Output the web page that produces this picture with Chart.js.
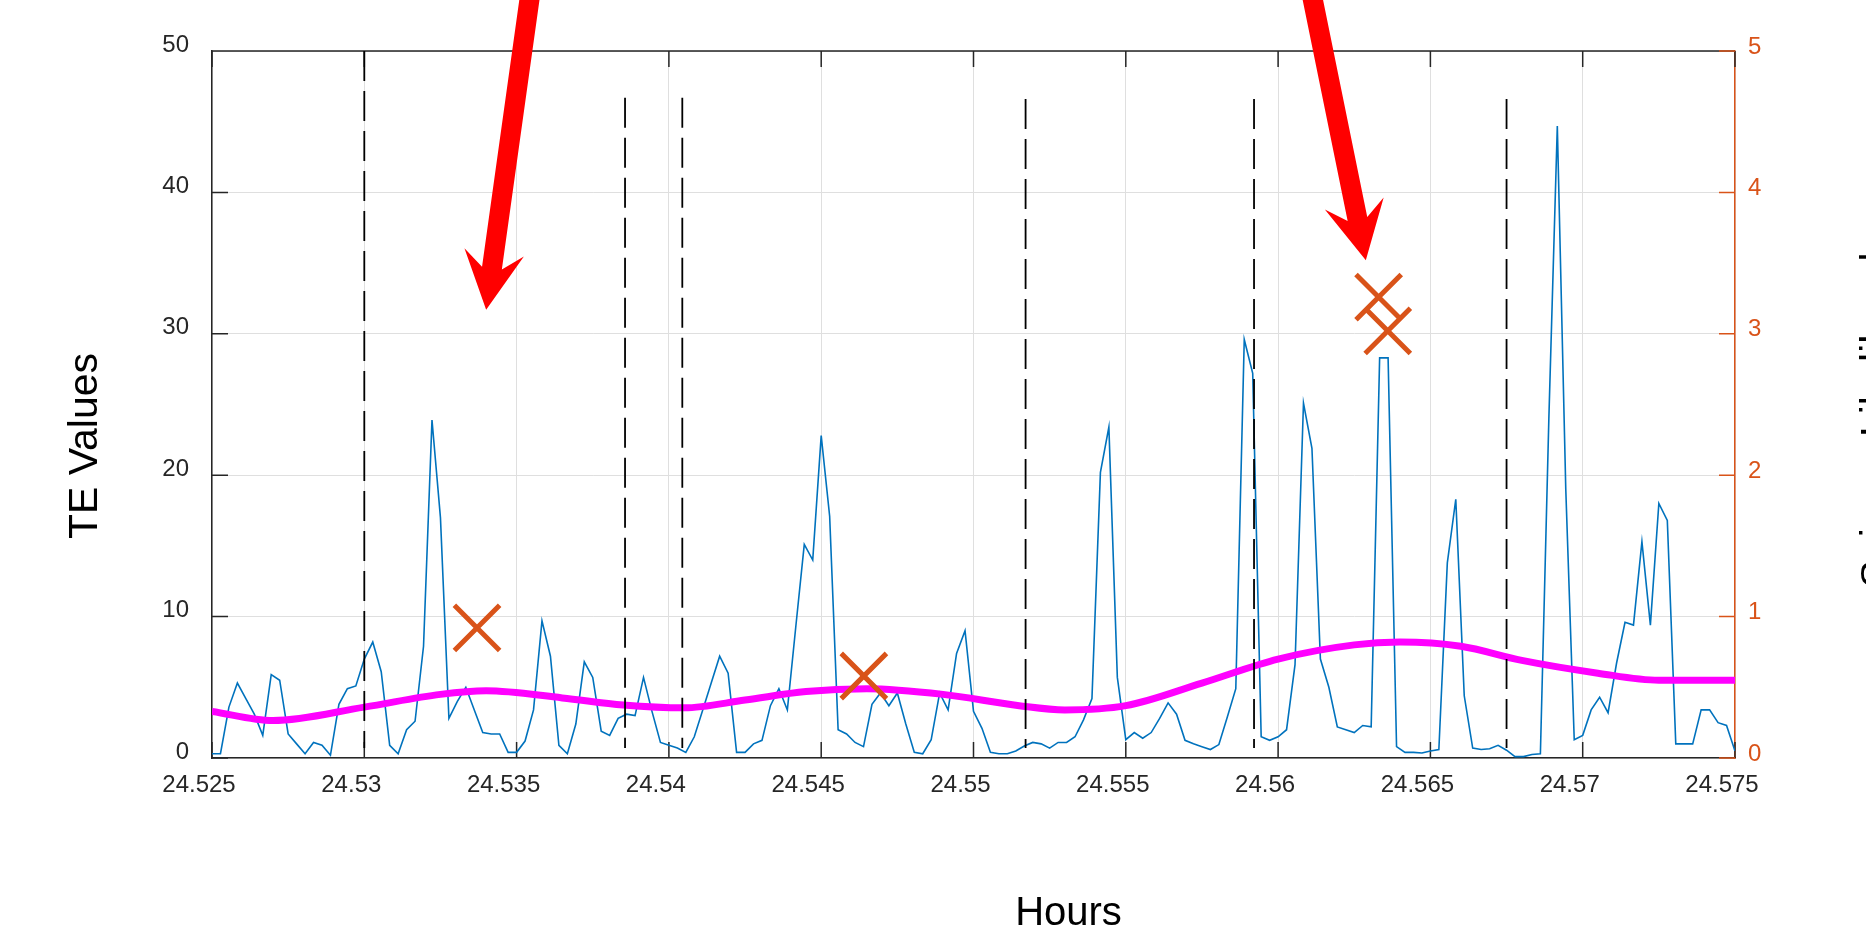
<!DOCTYPE html>
<html>
<head>
<meta charset="utf-8">
<script src="https://cdn.jsdelivr.net/npm/chart.js@4.4.1/dist/chart.umd.min.js"></script>
<style>
  html, body { margin: 0; padding: 0; background: #fff; overflow: hidden; }
  #wrap { width: 1866px; height: 928px; }
</style>
</head>
<body>
<div id="wrap"><canvas id="teChart" width="1866" height="928"></canvas></div>
<script>
// time axis: one TE sample per second, starting at 24.525 h
const startHour = 24.525;
const stepHour = 1 / 3600;

// TE values (left axis)
const teValues = [
  0.3, 0.3, 3.6, 5.3, 4.2, 3.1, 1.6, 5.9, 5.5, 1.7,
  1.0, 0.3, 1.1, 0.9, 0.2, 3.8, 4.9, 5.1, 7.0, 8.2,
  6.1, 0.9, 0.3, 2.0, 2.6, 7.9, 23.9, 17.0, 2.8, 4.0,
  5.0, 3.4, 1.8, 1.7, 1.7, 0.4, 0.4, 1.2, 3.4, 9.7,
  7.2, 0.9, 0.3, 2.4, 6.8, 5.7, 1.9, 1.6, 2.8, 3.1,
  3.0, 5.7, 3.3, 1.1, 0.9, 0.7, 0.4, 1.5, 3.4, 5.3,
  7.2, 6.0, 0.4, 0.4, 1.0, 1.25, 3.7, 4.9, 3.4, 9.3,
  15.1, 14.0, 22.8, 17.1, 2.0, 1.7, 1.1, 0.8, 3.8, 4.6,
  3.7, 4.6, 2.4, 0.4, 0.3, 1.3, 4.6, 3.4, 7.4, 9.0,
  3.3, 2.1, 0.4, 0.3, 0.3, 0.5, 0.85, 1.1, 1.0, 0.7,
  1.1, 1.1, 1.5, 2.7, 4.2, 20.2, 23.4, 5.7, 1.3, 1.8,
  1.4, 1.8, 2.8, 3.9, 3.1, 1.25, 1.0, 0.8, 0.6, 0.95,
  2.9, 4.9, 29.6, 27.2, 1.5, 1.25, 1.5, 2.0, 6.6, 25.1,
  21.9, 7.0, 5.0, 2.2, 2.0, 1.8, 2.3, 2.2, 28.3, 28.3,
  0.8, 0.4, 0.4, 0.35, 0.5, 0.6, 13.8, 18.3, 4.4, 0.7,
  0.6, 0.65, 0.9, 0.55, 0.1, 0.1, 0.25, 0.3, 24.0, 44.7,
  19.0, 1.3, 1.6, 3.4, 4.3, 3.2, 6.7, 9.6, 9.4, 15.3,
  9.4, 18.0, 16.8, 1.0, 1.0, 1.0, 3.4, 3.4, 2.5, 2.3,
  0.5
];

// smooth magenta trend (left axis)
const fitHours = [24.525, 24.527, 24.530, 24.5325, 24.534, 24.5365, 24.5385, 24.5405,
  24.5425, 24.5445, 24.5465, 24.549, 24.5515, 24.553, 24.555, 24.5575, 24.560,
  24.5625, 24.564, 24.566, 24.568, 24.5705, 24.5725, 24.575];
const fitValues = [3.3, 2.65, 3.6, 4.5, 4.75, 4.25, 3.75, 3.55,
  4.1, 4.7, 4.9, 4.5, 3.7, 3.4, 3.7, 5.3, 7.0,
  8.0, 8.2, 7.9, 6.9, 6.0, 5.5, 5.5];

// orange crosses (right axis)
const markerHours = [24.5337, 24.5464, 24.5633, 24.5636];
const markerValues = [0.92, 0.58, 3.26, 3.02];

// dashed event lines (left axis units)
const eventHours = [24.5300, 24.53856, 24.54044, 24.55171, 24.55921, 24.5675];
const eventTops = [50, 46.7, 46.7, 46.6, 46.6, 46.6];
const eventBottom = 0.7;

// red annotation arrows, tail -> tip (left axis units)
const arrowTailHours = [24.53551, 24.56101];
const arrowTailValues = [55.0, 55.0];
const arrowTipHours = [24.53400, 24.56288];
const arrowTipValues = [31.7, 35.2];

const xTicks = [24.525, 24.53, 24.535, 24.54, 24.545, 24.55, 24.555, 24.56, 24.565, 24.57, 24.575];

const xTitle = "Hours";
const yTitle = "TE Values";
const y2Title = "Seizure Likelihood";

const inkColor = "#262626";
const orange = "#D95319";
const fontFamily = '"Liberation Sans", Arial, Helvetica, sans-serif';

Chart.defaults.font.family = fontFamily;

const tePoints = teValues.map((v, i) => ({ x: startHour + i * stepHour, y: v }));
const fitPoints = fitHours.map((h, i) => ({ x: h, y: fitValues[i] }));
const markerPoints = markerHours.map((h, i) => ({ x: h, y: markerValues[i] }));

const eventSets = eventHours.map((h, k) => ({
  label: "event " + (k + 1),
  data: [{ x: h, y: eventTops[k] }, { x: h, y: eventBottom }],
  yAxisID: "y",
  borderColor: "#000000",
  borderWidth: 1.8,
  borderDash: [30, 10],
  pointRadius: 0,
  fill: false,
  order: 1,
}));

// inward MATLAB-style tick marks and top box line
const axisDecor = {
  id: "axisDecor",
  beforeDatasetsDraw(chart) {
    const { ctx, chartArea, scales } = chart;
    const len = 16;
    ctx.save();
    ctx.lineWidth = 1.5;
    ctx.strokeStyle = inkColor;
    ctx.beginPath();
    scales.x.ticks.forEach((t) => {
      const px = scales.x.getPixelForValue(t.value);
      ctx.moveTo(px, chartArea.bottom);
      ctx.lineTo(px, chartArea.bottom - len);
      ctx.moveTo(px, chartArea.top);
      ctx.lineTo(px, chartArea.top + len);
    });
    scales.y.ticks.forEach((t) => {
      const py = scales.y.getPixelForValue(t.value);
      ctx.moveTo(chartArea.left, py);
      ctx.lineTo(chartArea.left + len, py);
    });
    ctx.moveTo(chartArea.left, chartArea.top);
    ctx.lineTo(chartArea.right, chartArea.top);
    ctx.stroke();

    ctx.strokeStyle = orange;
    ctx.beginPath();
    scales.y2.ticks.forEach((t) => {
      const py = scales.y2.getPixelForValue(t.value);
      ctx.moveTo(chartArea.right, py);
      ctx.lineTo(chartArea.right - len, py);
    });
    ctx.stroke();
    ctx.restore();
  },
};

// red arrows drawn from data coordinates
const arrowPlugin = {
  id: "arrowPlugin",
  afterDraw(chart) {
    const { ctx, scales } = chart;
    ctx.save();
    ctx.fillStyle = "#FF0000";
    arrowTipHours.forEach((h, k) => {
      const tx = scales.x.getPixelForValue(h);
      const ty = scales.y.getPixelForValue(arrowTipValues[k]);
      const sx = scales.x.getPixelForValue(arrowTailHours[k]);
      const sy = scales.y.getPixelForValue(arrowTailValues[k]);
      const len = Math.hypot(tx - sx, ty - sy);
      const ux = (tx - sx) / len, uy = (ty - sy) / len;
      const nx = -uy, ny = ux;
      const shaft = 10, headBack = 58, headHalf = 30, notch = 42;
      ctx.beginPath();
      ctx.moveTo(sx + nx * shaft, sy + ny * shaft);
      ctx.lineTo(tx - ux * notch + nx * shaft, ty - uy * notch + ny * shaft);
      ctx.lineTo(tx - ux * headBack + nx * headHalf, ty - uy * headBack + ny * headHalf);
      ctx.lineTo(tx, ty);
      ctx.lineTo(tx - ux * headBack - nx * headHalf, ty - uy * headBack - ny * headHalf);
      ctx.lineTo(tx - ux * notch - nx * shaft, ty - uy * notch - ny * shaft);
      ctx.lineTo(sx - nx * shaft, sy - ny * shaft);
      ctx.closePath();
      ctx.fill();
    });
    ctx.restore();
  },
};

// axis titles placed like the MATLAB figure
const axisTitles = {
  id: "axisTitles",
  afterDraw(chart) {
    const { ctx, chartArea } = chart;
    ctx.save();
    ctx.fillStyle = "#000000";
    ctx.textAlign = "center";
    ctx.textBaseline = "alphabetic";
    ctx.font = "40px " + fontFamily;
    ctx.fillText(xTitle, (chartArea.left + chartArea.right) / 2 + 95, 925);

    ctx.font = "41px " + fontFamily;
    ctx.translate(97, 446);
    ctx.rotate(-Math.PI / 2);
    ctx.fillText(yTitle, 0, 0);
    ctx.restore();

    ctx.save();
    ctx.fillStyle = "#000000";
    ctx.textAlign = "center";
    ctx.textBaseline = "alphabetic";
    ctx.font = "41px " + fontFamily;
    ctx.translate(1889, 420);
    ctx.rotate(-Math.PI / 2);
    ctx.fillText(y2Title, 0, 0);
    ctx.restore();
  },
};

new Chart(document.getElementById("teChart"), {
  type: "line",
  data: {
    datasets: [
      {
        label: "Seizure markers",
        data: markerPoints,
        yAxisID: "y2",
        showLine: false,
        pointStyle: "crossRot",
        pointRadius: 32,
        pointBorderWidth: 5,
        pointBorderColor: orange,
        pointBackgroundColor: orange,
        order: 0,
      },
      ...eventSets,
      {
        label: "Trend",
        data: fitPoints,
        yAxisID: "y",
        borderColor: "#FF00FF",
        borderWidth: 7,
        pointRadius: 0,
        cubicInterpolationMode: "monotone",
        fill: false,
        order: 2,
      },
      {
        label: "TE",
        data: tePoints,
        yAxisID: "y",
        borderColor: "#0072BD",
        borderWidth: 1.6,
        pointRadius: 0,
        tension: 0,
        fill: false,
        order: 3,
      },
    ],
  },
  options: {
    responsive: false,
    animation: false,
    devicePixelRatio: 1,
    layout: { padding: { top: 51, left: 0, right: 0, bottom: 0 } },
    plugins: {
      legend: { display: false },
      tooltip: { enabled: false },
    },
    scales: {
      x: {
        type: "linear",
        min: 24.525,
        max: 24.575,
        afterBuildTicks: (scale) => {
          scale.ticks = xTicks.map((v) => ({ value: v }));
        },
        afterFit: (scale) => {
          scale.height = 170;
        },
        grid: { color: "#dfdfdf", lineWidth: 1, drawTicks: false },
        border: { color: inkColor, width: 1.5 },
        ticks: {
          autoSkip: false,
          maxRotation: 0,
          minRotation: 0,
          padding: 13,
          labelOffset: -13,
          color: inkColor,
          font: { size: 24 },
          callback: (v) => String(+Number(v).toFixed(3)),
        },
      },
      y: {
        position: "left",
        min: 0,
        max: 50,
        afterFit: (scale) => {
          scale.width = 212;
        },
        grid: { color: "#dfdfdf", lineWidth: 1, drawTicks: false },
        border: { color: inkColor, width: 1.5 },
        ticks: {
          stepSize: 10,
          padding: 23,
          labelOffset: -6,
          color: inkColor,
          font: { size: 24 },
        },
      },
      y2: {
        position: "right",
        min: 0,
        max: 5,
        afterFit: (scale) => {
          scale.width = 131;
        },
        grid: { display: false, drawTicks: false },
        border: { color: orange, width: 1.5 },
        ticks: {
          stepSize: 1,
          padding: 13,
          labelOffset: -4,
          color: orange,
          font: { size: 24 },
        },
      },
    },
  },
  plugins: [axisDecor, arrowPlugin, axisTitles],
});
</script>
</body>
</html>
